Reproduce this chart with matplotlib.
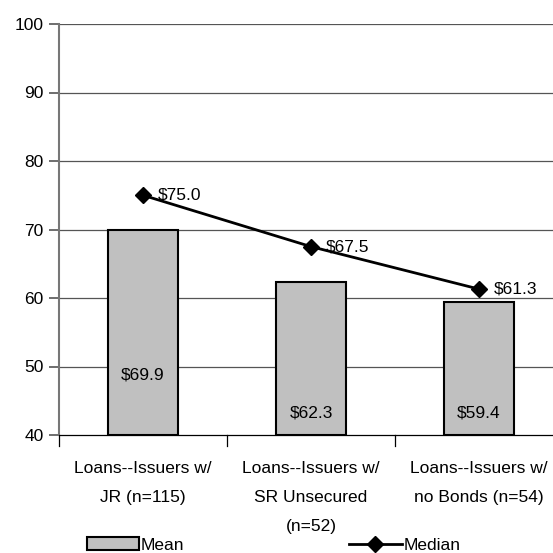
import matplotlib
matplotlib.use("Agg")
import matplotlib.pyplot as plt
from matplotlib.patches import Patch
from matplotlib.lines import Line2D

categories = ["Loans--Issuers w/\nJR (n=115)", "Loans--Issuers w/\nSR Unsecured\n(n=52)", "Loans--Issuers w/\nno Bonds (n=54)"]
mean_vals = [69.9, 62.3, 59.4]
median_vals = [75.0, 67.5, 61.3]
yticks = [40, 50, 60, 70, 80, 90, 100]

plt.rcParams["font.family"] = ["Liberation Sans", "DejaVu Sans"]
FS = 12.5

fig = plt.figure(figsize=(5.53, 5.53), dpi=100)
ax = fig.add_axes([59/553, 1-435/553, 504/553, 411/553])
x = list(range(len(categories)))

ax.set_ylim(40, 100)
ax.set_xlim(-0.5, 2.5)
ax.set_yticks(yticks)
ax.set_yticklabels([str(v) for v in yticks], fontsize=FS)
for v in yticks[1:]:
    ax.axhline(v, color="#555555", lw=0.9, zorder=0)

ax.bar(x, [m - 40 for m in mean_vals], bottom=40, width=0.42, color="#c0c0c0",
       edgecolor="black", linewidth=1.5, zorder=2)
ax.plot(x, median_vals, color="black", lw=2, marker="D", markersize=8, zorder=3)

for xi, m in zip(x, median_vals):
    ax.annotate(f"${m:.1f}", (xi, m), xytext=(11, 0), textcoords="offset points",
                ha="left", va="center", fontsize=FS, zorder=4)
for xi, m in zip(x, mean_vals):
    ypos = 48.8 if m > 65 else 43.2
    ax.text(xi, ypos, f"${m:.1f}", ha="center", va="center", fontsize=FS, zorder=4)

ax.set_xticks(x)
ax.set_xticklabels(categories, fontsize=FS, linespacing=2.15, va="top")
ax.tick_params(axis="x", length=0, pad=19)
for b in [-0.5, 0.5, 1.5]:
    ax.plot([b, b], [40, 38.4], color="black", lw=0.9, clip_on=False)
ax.tick_params(axis="y", length=7, color="#555555", width=1.2, pad=4)

for s in ["top", "right"]:
    ax.spines[s].set_visible(False)
ax.spines["left"].set_color("#777777")
ax.spines["left"].set_linewidth(1.5)
ax.spines["bottom"].set_color("black")
ax.spines["bottom"].set_linewidth(0.9)

handles = [Patch(facecolor="#c0c0c0", edgecolor="black", linewidth=1.5, label="Mean"),
           Line2D([0], [0], color="black", lw=2, marker="D", markersize=8, label="Median")]
fig.legend(handles=handles, loc="center", bbox_to_anchor=(0.495, 1-545/553), ncol=2,
           frameon=False, fontsize=FS, columnspacing=9.5, handlelength=3.0,
           handletextpad=0.1)

fig.savefig("out.png", dpi=100)
